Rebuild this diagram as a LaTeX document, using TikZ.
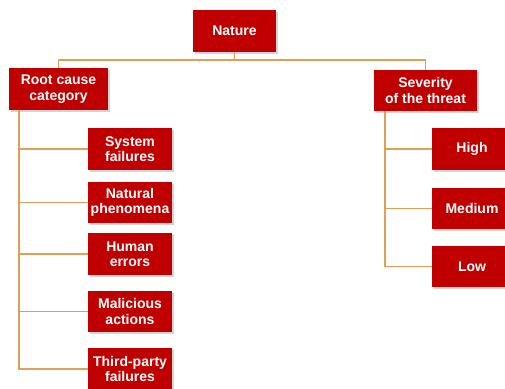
\documentclass[tikz,border=0pt]{standalone}
\usepackage{fontspec}
\setmainfont{Liberation Sans}
\usetikzlibrary{shadows}
\definecolor{boxred}{HTML}{C00000}
\definecolor{linetan}{HTML}{DFA055}
\begin{document}
\begin{tikzpicture}[x=1pt,y=-1pt,
  box/.style={draw=none, fill=boxred, text=white, font=\fontsize{14}{15.5}\selectfont\bfseries,
    align=center, inner sep=0pt, minimum height=42,
    drop shadow={shadow xshift=1.5pt, shadow yshift=-1.5pt, opacity=0.35, fill=gray}},
  conn/.style={draw=linetan, line width=1.2pt}]
\useasboundingbox (0,0) rectangle (505,388);
\clip (0,0) rectangle (505,388);
\node[box, minimum width=83] (nature) at (234.5,31) {Nature};
\node[box, minimum width=99] (root) at (58.5,89) {Root cause\\category};
\node[box, minimum width=103, minimum height=41] (sev) at (425.5,90.5) {Severity\\of the threat};
\node[box, minimum width=84] (c1) at (130,149) {System\\failures};
\node[box, minimum width=84, minimum height=41] (c2) at (130,202.5) {Natural\\phenomena};
\node[box, minimum width=84] (c3) at (130,254) {Human\\errors};
\node[box, minimum width=84, minimum height=41] (c4) at (130,311.5) {Malicious\\actions};
\node[box, minimum width=84] (c5) at (130,369) {Third-party\\failures};
\node[box, minimum width=80] (h) at (472,149) {High};
\node[box, minimum width=80, minimum height=41] (m) at (472,208.5) {Medium};
\node[box, minimum width=80, minimum height=41] (l) at (472,266.5) {Low};
\coordinate (j) at (234.5,60);
\coordinate (rl) at (19,110);
\coordinate (sl) at (385,111);
\draw[conn] (nature.south) -- (j) -| (root.north);
\draw[conn] (j) -| (sev.north);
\foreach \c in {c1,c2,c3,c4,c5} \draw[conn] (rl) |- (\c.west);
\foreach \c in {h,m,l} \draw[conn] (sl) |- (\c.west);
\end{tikzpicture}
\end{document}
